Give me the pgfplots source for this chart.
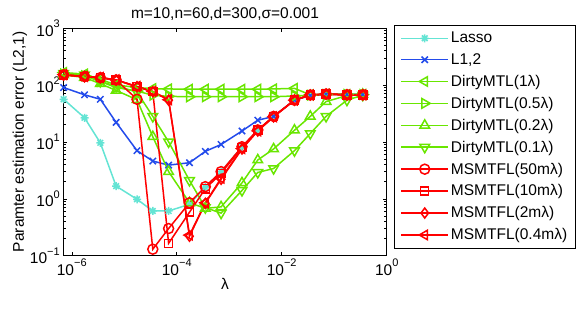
\documentclass[border=0pt]{standalone}
\usepackage{fontspec}
\setmainfont{Liberation Sans}
\usepackage{pgfplots}
\usepackage{pgfplotstable}
\pgfplotsset{compat=1.18}
\definecolor{cyanL}{RGB}{100,228,212}
\definecolor{blueL}{RGB}{35,75,235}
\definecolor{greenL}{RGB}{105,230,0}
\definecolor{redL}{RGB}{255,0,0}
\newcommand{\fs}{\fontsize{15.5}{18}\selectfont}
\newcommand{\pw}[1]{10\raisebox{0.55em}{\fontsize{11}{11}\selectfont #1}}
\pgfdeclareplotmark{mstar}{%
  \pgfpathmoveto{\pgfqpoint{-\pgfplotmarksize}{0pt}}\pgfpathlineto{\pgfqpoint{\pgfplotmarksize}{0pt}}%
  \pgfpathmoveto{\pgfqpoint{0pt}{-\pgfplotmarksize}}\pgfpathlineto{\pgfqpoint{0pt}{\pgfplotmarksize}}%
  \pgfpathmoveto{\pgfqpoint{-.7071\pgfplotmarksize}{-.7071\pgfplotmarksize}}\pgfpathlineto{\pgfqpoint{.7071\pgfplotmarksize}{.7071\pgfplotmarksize}}%
  \pgfpathmoveto{\pgfqpoint{-.7071\pgfplotmarksize}{.7071\pgfplotmarksize}}\pgfpathlineto{\pgfqpoint{.7071\pgfplotmarksize}{-.7071\pgfplotmarksize}}%
  \pgfusepathqstroke}
\pgfplotstableread{
lam     lasso l12  da   db   dc   dd   ma    mb    mc    md
7e-7    56    90   165  155  150  160  150   150   150   152
1.75e-6 26.5  67   155  145  135  150  140   140   140   141
3.5e-6  9.6   56   125  115  105  115  134   134   134   135
7e-6    1.67  22   100  90   80   95   122   122   122   123
1.75e-5 0.98  7.0  90   78   55   75   56    93    93    94
3.5e-5  0.61  4.6  86   66   12.3 28   0.13  76    76    77
7e-5    0.61  3.9  85   63   3.0  10   0.30  0.165 54    55
1.75e-4 0.80  4.3  84   62   0.85 2.1  0.85  0.58  0.22  0.23
3.5e-4  1.6   6.8  84   62   0.68 0.70 1.63  1.5   0.83  0.85
7e-4    3.0   9.0  84   62   0.72 0.56 3.0   2.8   2.2   2.3
1.75e-3 8.2   15.5 84   62   1.9  1.4  8.2   8.0   7.5   7.6
3.5e-3  16    24   84   62   4.8  2.9  16.2  16    15.5  15.6
7e-3    28    28   85   62   7.5  3.4  28    28    27.5  27.6
1.75e-2 54    54   87   64   16   7.0  54    54    54    54
3.5e-2  66    65   67   66   28   14   66.6  66.6  66.6  66.6
7e-2    69    68.7 69   68   51   28   69    69    69    69
0.175   68    68   68   68   65   54   67    67    67    67
0.35    68    68   68   68   68   66   67    67    67    67
}\data
\begin{document}
\begin{tikzpicture}
\begin{axis}[
  name=ax,
  xmode=log, ymode=log,
  scale only axis, width=323.4pt, height=227.7pt,
  xmin=6.9e-7, xmax=1, ymin=0.1, ymax=1000,
  xtick={1e-6,1e-4,1e-2,1},
  xticklabels={\pw{−6},\pw{−4},\pw{−2},\pw{0}},
  ytick={0.1,1,10,100,1000},
  yticklabels={\pw{−1},\pw{0},\pw{1},\pw{2},\pw{3}},
  xminorticks=false,
  tick align=inside,
  tick pos=both,
  major tick length=4pt, minor tick length=2.5pt,
  tick label style={font=\fs},
  axis line style={line width=0.6pt},
  every tick/.style={black, line width=0.5pt},
  title={m=10,n=60,d=300,σ=0.001},
  title style={font=\fs, yshift=-2pt},
  xlabel={λ}, xlabel style={font=\fs, yshift=4pt},
  ylabel={Paramter estimation error (L2,1)}, ylabel style={font=\fs, yshift=-4pt},
  clip=false,
  legend style={at={(1.0235,1.0132)}, anchor=north west, draw=black, fill=white,
    font=\fs, inner xsep=6pt, inner ysep=5pt, row sep=5.2pt},
  legend cell align=left,
  legend image code/.code={\draw[line width=1.5pt, mark repeat=2,mark phase=2] plot coordinates {(0pt,0pt) (23.5pt,0pt) (47pt,0pt)};},
  every axis plot/.append style={line width=1.5pt, mark options={solid}},
]
\addplot[cyanL, mark=mstar, mark size=4pt] table[x=lam,y=lasso]{\data};
\addlegendentry{Lasso}
\addplot[blueL, mark=x, mark size=4.5pt] table[x=lam,y=l12]{\data};
\addlegendentry{L1,2}
\addplot[greenL, mark=triangle, mark size=5.5pt, mark options={rotate=90}] table[x=lam,y=da]{\data};
\addlegendentry{DirtyMTL(1λ)}
\addplot[greenL, mark=triangle, mark size=5.5pt, mark options={rotate=-90}] table[x=lam,y=db]{\data};
\addlegendentry{DirtyMTL(0.5λ)}
\addplot[greenL, mark=triangle, mark size=5.5pt] table[x=lam,y=dc]{\data};
\addlegendentry{DirtyMTL(0.2λ)}
\addplot[greenL, mark=triangle, mark size=5.5pt, mark options={rotate=180}] table[x=lam,y=dd]{\data};
\addlegendentry{DirtyMTL(0.1λ)}
\addplot[redL, mark=o, mark size=5pt] table[x=lam,y=ma]{\data};
\addlegendentry{MSMTFL(50mλ)}
\addplot[redL, mark=square, mark size=4pt] table[x=lam,y=mb]{\data};
\addlegendentry{MSMTFL(10mλ)}
\addplot[redL, mark=diamond, mark size=5pt] table[x=lam,y=mc]{\data};
\addlegendentry{MSMTFL(2mλ)}
\addplot[redL, mark=triangle, mark size=5.5pt, mark options={rotate=90}] table[x=lam,y=md]{\data};
\addlegendentry{MSMTFL(0.4mλ)}
\end{axis}
\path ([shift={(-63.3pt,-54.3pt)}]ax.south west) rectangle ([shift={(194.3pt,28pt)}]ax.north east);
\end{tikzpicture}
\end{document}
